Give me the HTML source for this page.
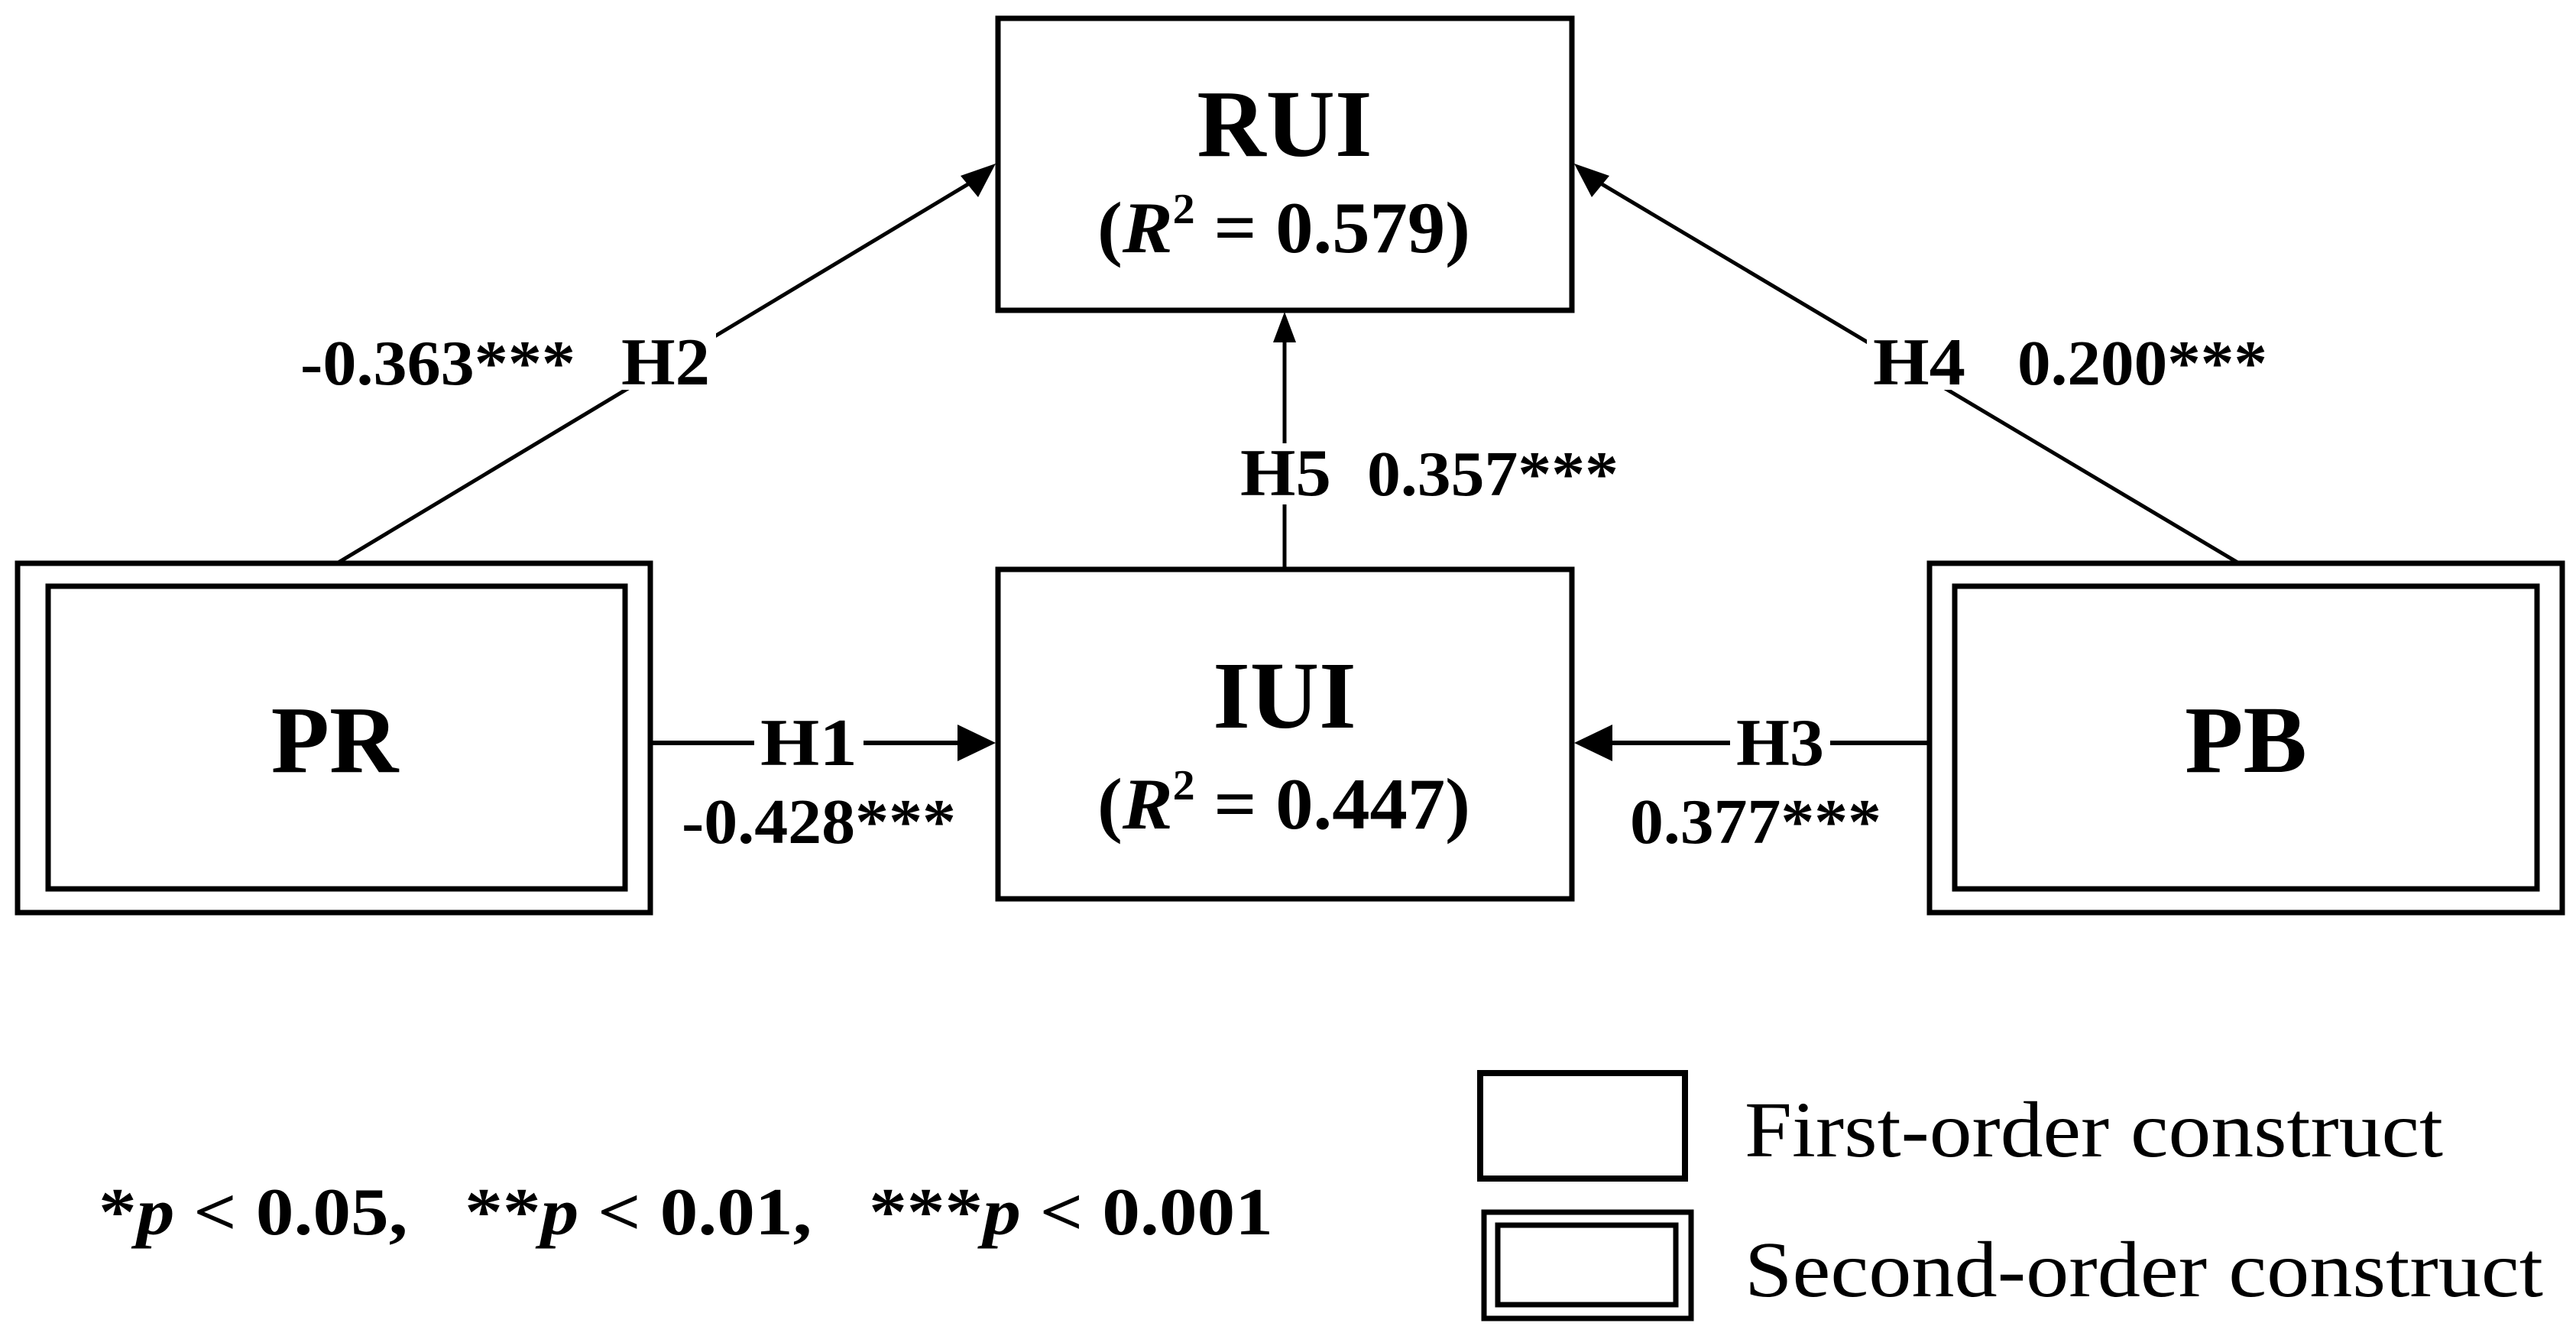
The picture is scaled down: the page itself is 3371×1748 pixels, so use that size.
<!DOCTYPE html>
<html><head><meta charset="utf-8"><style>
html,body{margin:0;padding:0;background:#fff;}
svg{display:block;}
text{font-family:"Liberation Serif",serif;fill:#000;white-space:pre;}
.b{font-weight:bold;}
</style></head><body>
<svg width="3371" height="1748" viewBox="0 0 3371 1748" xmlns="http://www.w3.org/2000/svg">
<g fill="none" stroke="#000">
<rect x="1306" y="24" width="751" height="382" stroke-width="7"/>
<rect x="1306" y="745" width="751" height="431" stroke-width="7"/>
<rect x="23" y="737" width="828" height="457" stroke-width="7"/>
<rect x="63" y="767" width="755" height="396" stroke-width="7"/>
<rect x="2525" y="737" width="828" height="457" stroke-width="7"/>
<rect x="2558" y="767" width="762" height="396" stroke-width="7"/>
<rect x="1937" y="1404" width="268" height="138" stroke-width="8"/>
<rect x="1942" y="1586" width="271" height="139" stroke-width="7"/>
<rect x="1960" y="1603" width="233" height="104" stroke-width="7"/>
<line x1="441" y1="737" x2="1280" y2="233" stroke-width="5"/>
<line x1="2930" y1="737" x2="2083" y2="233" stroke-width="5"/>
<line x1="1681" y1="742" x2="1681" y2="440" stroke-width="5"/>
<line x1="853" y1="972" x2="1270" y2="972" stroke-width="6"/>
<line x1="2522" y1="972" x2="2093" y2="972" stroke-width="6"/>
</g>
<g fill="#000">
<polygon points="1303,214 1257,230 1280,258"/>
<polygon points="2060,214 2083,258 2106,230"/>
<polygon points="1681,408 1666,448 1696,448"/>
<polygon points="1303,972 1253,948 1253,996"/>
<polygon points="2060,972 2110,948 2110,996"/>
</g>
<g fill="#fff">
<rect x="805" y="430" width="132" height="80"/>
<rect x="2443" y="430" width="137" height="80"/>
<rect x="1615" y="580" width="135" height="80"/>
<rect x="987" y="930" width="143" height="80"/>
<rect x="2264" y="930" width="131" height="80"/>
</g>
<g class="b">
<text x="1681" y="204" font-size="125" text-anchor="middle">RUI</text>
<text x="1436" y="330" font-size="95" textLength="488" lengthAdjust="spacingAndGlyphs">(<tspan font-style="italic">R</tspan><tspan font-size="56" dy="-38">2</tspan><tspan dy="38"> = 0.579)</tspan></text>
<text x="1681" y="952" font-size="125" text-anchor="middle">IUI</text>
<text x="1436" y="1084" font-size="95" textLength="488" lengthAdjust="spacingAndGlyphs">(<tspan font-style="italic">R</tspan><tspan font-size="56" dy="-38">2</tspan><tspan dy="38"> = 0.447)</tspan></text>
<text x="438" y="1010" font-size="125" text-anchor="middle">PR</text>
<text x="2939" y="1010" font-size="125" text-anchor="middle">PB</text>
<text x="393" y="503" font-size="84" textLength="360" lengthAdjust="spacingAndGlyphs">-0.363***</text>
<text x="813" y="503" font-size="88" textLength="116" lengthAdjust="spacingAndGlyphs">H2</text>
<text x="2451" y="503" font-size="88" textLength="121" lengthAdjust="spacingAndGlyphs">H4</text>
<text x="2640" y="503" font-size="84" textLength="327" lengthAdjust="spacingAndGlyphs">0.200***</text>
<text x="1623" y="648" font-size="88" textLength="119" lengthAdjust="spacingAndGlyphs">H5</text>
<text x="1789" y="648" font-size="84" textLength="329" lengthAdjust="spacingAndGlyphs">0.357***</text>
<text x="995" y="1001" font-size="88" textLength="127" lengthAdjust="spacingAndGlyphs">H1</text>
<text x="892" y="1103" font-size="84" textLength="359" lengthAdjust="spacingAndGlyphs">-0.428***</text>
<text x="2272" y="1001" font-size="88" textLength="115" lengthAdjust="spacingAndGlyphs">H3</text>
<text x="2133" y="1103" font-size="84" textLength="329" lengthAdjust="spacingAndGlyphs">0.377***</text>
<text x="129" y="1615" font-size="88" textLength="1537" lengthAdjust="spacingAndGlyphs">*<tspan font-style="italic">p</tspan> &lt; 0.05,   **<tspan font-style="italic">p</tspan> &lt; 0.01,   ***<tspan font-style="italic">p</tspan> &lt; 0.001</text>
</g>
<text x="2283" y="1513" font-size="104" textLength="914" lengthAdjust="spacingAndGlyphs">First-order construct</text>
<text x="2283" y="1696" font-size="104" textLength="1045" lengthAdjust="spacingAndGlyphs">Second-order construct</text>
</svg>
</body></html>
